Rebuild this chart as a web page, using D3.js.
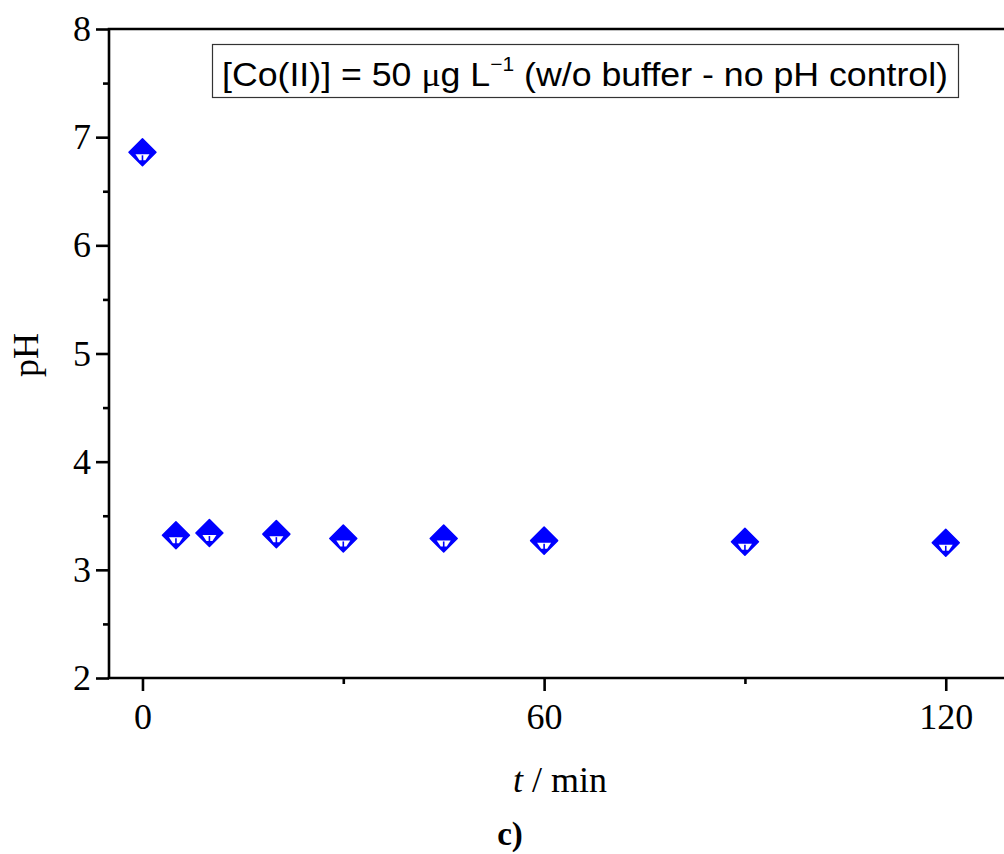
<!DOCTYPE html>
<html>
<head>
<meta charset="utf-8">
<script src="https://cdn.jsdelivr.net/npm/d3@7"></script>
<style>
  html, body { margin: 0; padding: 0; background: #fff; }
  svg { display: block; }
</style>
</head>
<body>
<svg id="chart" width="1004" height="854"></svg>
<script>
// pH of the Co(II) solution over time (no buffer)
const timeMin = [0, 5, 10, 20, 30, 45, 60, 90, 120];
const pHValues = [6.86, 3.32, 3.34, 3.33, 3.29, 3.29, 3.27, 3.26, 3.25];
const xMajorTicks = [0, 60, 120];
const xMinorTicks = [30, 90];
const yMajorTicks = [2, 3, 4, 5, 6, 7, 8];
const yMinorTicks = [2.5, 3.5, 4.5, 5.5, 6.5, 7.5];

const svg = d3.select("#chart");
const serif = "'Liberation Serif', 'Times New Roman', serif";
const sans = "'Liberation Sans', Arial, sans-serif";

const plotLeft = 109, plotRight = 1012.7, plotTop = 29, plotBottom = 678;
const x = d3.scaleLinear().domain([-5, 130]).range([plotLeft, plotRight]);
const y = d3.scaleLinear().domain([2, 8]).range([plotBottom, plotTop]);

const axisW = 2.6;

// frame lines (left, bottom, top)
svg.append("line").attr("x1", plotLeft).attr("x2", plotLeft).attr("y1", plotTop).attr("y2", plotBottom)
  .attr("stroke", "#000").attr("stroke-width", axisW);
svg.append("line").attr("x1", plotLeft - 1.3).attr("x2", plotRight).attr("y1", plotBottom).attr("y2", plotBottom)
  .attr("stroke", "#000").attr("stroke-width", axisW);
svg.append("line").attr("x1", plotLeft - 1.3).attr("x2", plotRight).attr("y1", plotTop).attr("y2", plotTop)
  .attr("stroke", "#000").attr("stroke-width", axisW);

function styleAxis(g) {
  g.select(".domain").remove();
  g.selectAll(".tick line").attr("stroke", "#000").attr("stroke-width", axisW);
  g.selectAll(".tick text").attr("font-family", serif).attr("font-size", 36).attr("fill", "#000");
}

// y axis
svg.append("g").attr("transform", `translate(${plotLeft},0)`)
  .call(d3.axisLeft(y).tickValues(yMajorTicks).tickSize(13).tickPadding(5).tickFormat(d3.format("d")))
  .call(styleAxis);
svg.append("g").attr("transform", `translate(${plotLeft},0)`)
  .call(d3.axisLeft(y).tickValues(yMinorTicks).tickSize(6).tickFormat(""))
  .call(styleAxis);

// x axis
svg.append("g").attr("transform", `translate(0,${plotBottom})`)
  .call(d3.axisBottom(x).tickValues(xMajorTicks).tickSize(13).tickPadding(12).tickFormat(d3.format("d")))
  .call(styleAxis);
svg.append("g").attr("transform", `translate(0,${plotBottom})`)
  .call(d3.axisBottom(x).tickValues(xMinorTicks).tickSize(6).tickFormat(""))
  .call(styleAxis);

// axis titles
svg.append("text").attr("transform", "translate(38,355) rotate(-90)")
  .attr("text-anchor", "middle").attr("font-family", serif).attr("font-size", 36).text("pH");

const xt = svg.append("text").attr("x", 560).attr("y", 792).attr("text-anchor", "middle")
  .attr("font-family", serif).attr("font-size", 36);
xt.append("tspan").attr("font-style", "italic").text("t");
xt.append("tspan").text(" / min");

svg.append("text").attr("x", 510).attr("y", 845).attr("text-anchor", "middle")
  .attr("font-family", serif).attr("font-size", 33).attr("font-weight", "bold").text("c)");

// legend box
const lg = svg.append("g");
lg.append("rect").attr("x", 212.5).attr("y", 44.5).attr("width", 746).attr("height", 53)
  .attr("fill", "#fff").attr("stroke", "#333").attr("stroke-width", 1.2);
const lt = lg.append("text").attr("x", 0).attr("y", 0)
  .attr("font-family", sans).attr("font-size", 34).attr("fill", "#000");
lt.append("tspan").text("[Co(II)] = 50 ");
lt.append("tspan").attr("font-family", serif).text("\u03BC");
lt.append("tspan").text("g L");
lt.append("tspan").attr("font-size", 20).attr("dy", -15).text("\u22121");
lt.append("tspan").attr("dy", 15).text(" (w/o buffer - no pH control)");
// condense the label horizontally so it fits the box
const textW = lt.node().getBBox().width;
const targetW = 726;
lt.attr("transform", `translate(222,86) scale(${targetW / textW},1)`);

// data markers: blue diamonds with small white error glyph
const r = 13.5;
const pts = svg.append("g").selectAll("g").data(timeMin.map((t, i) => ({ t, v: pHValues[i] })))
  .join("g").attr("transform", d => `translate(${x(d.t)},${y(d.v)})`);
pts.append("path").attr("d", `M0,${-r}L${r},0L0,${r}L${-r},0Z`)
  .attr("fill", "#0000ff").attr("stroke", "#0000ff").attr("stroke-width", 1.5).attr("stroke-linejoin", "round");
pts.append("path").attr("d", "M-7,2L7,2L3,8L-3,8Z").attr("fill", "#fff");
pts.append("line").attr("x1", 0).attr("x2", 0).attr("y1", 3).attr("y2", 9)
  .attr("stroke", "#0000ff").attr("stroke-width", 1.6);
</script>
</body>
</html>
